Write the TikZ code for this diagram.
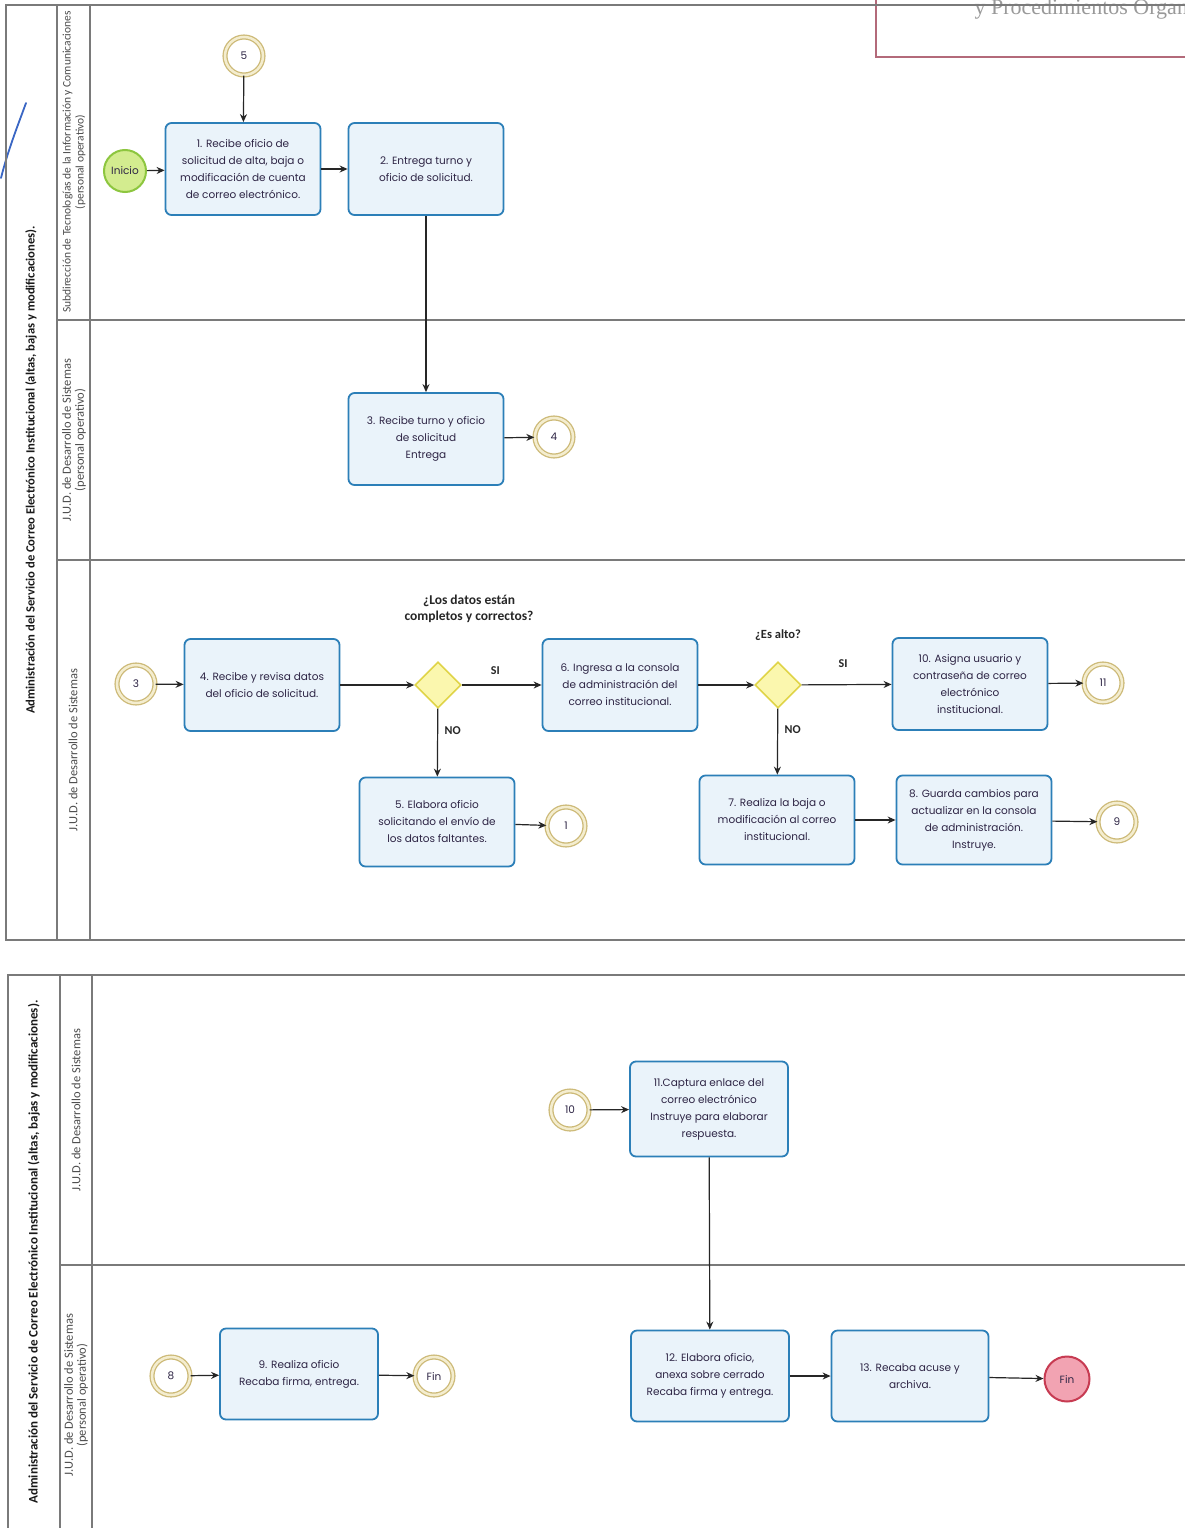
\documentclass[tikz,border=0pt]{standalone}
\usepackage{fontspec}
\setmainfont{Carlito}
\newfontfamily\boxfont{Poppins}
\newfontfamily\headfont{Liberation Serif}
\usetikzlibrary{arrows.meta,shapes.geometric}

\definecolor{taskfill}{HTML}{EAF3FA}
\definecolor{taskline}{HTML}{2C7FB8}
\definecolor{ink}{HTML}{2E2545}
\definecolor{ringcol}{HTML}{CDBA78}
\definecolor{ringgap}{HTML}{F4EDCF}
\definecolor{gatefill}{HTML}{FBF7AE}
\definecolor{gateline}{HTML}{E0D448}
\definecolor{startfill}{HTML}{D3EC8F}
\definecolor{startline}{HTML}{8DC63F}
\definecolor{endfill}{HTML}{F2A3B2}
\definecolor{endline}{HTML}{C73B52}
\definecolor{framecol}{HTML}{7A7A7A}
\definecolor{stampcol}{HTML}{B36A7A}
\definecolor{pen}{HTML}{3A66C4}

\tikzset{
  task/.style={draw=taskline, fill=taskfill, line width=1.8pt, rounded corners=6pt,
    minimum width=155pt, minimum height=92pt, align=center, inner sep=2pt,
    font=\boxfont\fontsize{10.5}{17}\selectfont, text=ink},
  link/.style={circle, draw=ringcol, double=ringgap, double distance=2.5pt,
    line width=1.3pt, fill=white, minimum size=38pt, inner sep=0pt,
    font=\boxfont\fontsize{10.5}{11}\selectfont, text=ink},
  gate/.style={diamond, draw=gateline, fill=gatefill, line width=1.6pt,
    minimum width=46pt, minimum height=46pt, inner sep=0pt},
  startev/.style={circle, draw=startline, fill=startfill, line width=2pt,
    minimum size=42pt, inner sep=0pt, font=\boxfont\fontsize{10.5}{11}\selectfont, text=ink},
  endev/.style={circle, draw=endline, fill=endfill, line width=2pt,
    minimum size=45pt, inner sep=0pt, font=\boxfont\fontsize{10.5}{11}\selectfont, text=ink},
  flow/.style={-{Stealth[length=8pt,width=7pt]}, line width=1.2pt, draw=black!85},
  frameline/.style={draw=framecol, line width=1.3pt},
  question/.style={font=\bfseries\fontsize{13.5}{16}\selectfont, align=center, text=black!85},
  answer/.style={font=\bfseries\fontsize{12}{12}\selectfont, text=black!85},
  lanetext/.style={rotate=90, align=center, font=\fontsize{12.5}{13}\selectfont, text=black!70},
  titletext/.style={rotate=90, align=center, font=\bfseries\fontsize{12.6}{14}\selectfont, text=black!90},
}

\begin{document}
\begin{tikzpicture}[x=1pt, y=-1pt]
\useasboundingbox (0,0) rectangle (1185,1528);
\fill[white] (0,0) rectangle (1185,1528);
\clip (0,0) rectangle (1185,1528);

% stamp box in the upper right corner
\draw[stampcol, line width=1.3pt] (876,-5) -- (876,57) -- (1190,57);
\node[anchor=base west, text=black!40, font=\headfont\fontsize{22}{24}\selectfont] (stamp) at (971,15) {y Procedimientos Organ};

% pen mark on the margin
\draw[pen, line width=1.8pt, line cap=round] (26,103) .. controls (18,125) and (8,150) .. (1,178);

% ---------- sheet 1: lanes ----------
\draw[frameline] (1190,5) -- (6,5) -- (6,940) -- (1190,940);
\draw[frameline] (57,5) -- (57,940);
\draw[frameline] (90,5) -- (90,940);
\draw[frameline] (57,320) -- (1190,320);
\draw[frameline] (57,560) -- (1190,560);

\node[titletext] (title1) at (31,470) {Administración del Servicio de Correo Electrónico Institucional (altas, bajas y modificaciones).};
\node[lanetext, font=\fontsize{11.5}{13}\selectfont] (laneA) at (74,162) {Subdirección de Tecnologías de la Información y Comunicaciones\\(personal operativo)};
\node[lanetext] (laneB) at (74,440) {J.U.D. de Desarrollo de Sistemas\\(personal operativo)};
\node[lanetext] (laneC) at (73,750) {J.U.D. de Desarrollo de Sistemas};

% ---------- sheet 1: nodes ----------
\node[link] (c5) at (244,56) {5};
\node[startev] (inicio) at (125,171) {Inicio};
\node[task] (t1) at (243,169) {1. Recibe oficio de\\solicitud de alta, baja o\\modificación de cuenta\\de correo electrónico.};
\node[task] (t2) at (426,169) {2. Entrega turno y\\oficio de solicitud.};
\node[task] (t3) at (426,439) {3. Recibe turno y oficio\\de solicitud\\Entrega};
\node[link] (c4) at (554,437) {4};

\node[link] (c3) at (136,684) {3};
\node[task] (t4) at (262,685) {4. Recibe y revisa datos\\del oficio de solicitud.};
\node[gate] (g1) at (438,685) {};
\node[question] (q1) at (469,609) {¿Los datos están\\completos y correctos?};
\node[task] (t6) at (620,685) {6. Ingresa a la consola\\de administración del\\correo institucional.};
\node[gate] (g2) at (778,685) {};
\node[question, font=\bfseries\fontsize{12.5}{14}\selectfont] (q2) at (778,635) {¿Es alto?};
\node[task] (t10) at (970,684) {10. Asigna usuario y\\contraseña de correo\\electrónico\\institucional.};
\node[link] (c11) at (1103,683) {11};

\node[task, minimum height=89pt] (t5) at (437,822) {5. Elabora oficio\\solicitando el envío de\\los datos faltantes.};
\node[link] (c1) at (566,826) {1};
\node[task, minimum height=89pt] (t7) at (777,820) {7. Realiza la baja o\\modificación al correo\\institucional.};
\node[task, minimum height=89pt] (t8) at (974,820) {8. Guarda cambios para\\actualizar en la consola\\de administración.\\Instruye.};
\node[link] (c9) at (1117,822) {9};

% ---------- sheet 1: connectors ----------
\draw[flow] (c5) -- (t1);
\draw[flow] (inicio) -- (t1);
\draw[flow] (t1) -- (t2);
\draw[flow] (t2) -- (t3);
\draw[flow] (t3) -- (c4);
\draw[flow] (c3) -- (t4);
\draw[flow] (t4) -- (g1);
\draw[flow] (g1) -- node[answer, above=6pt, pos=0.42] (si1) {SI} (t6);
\draw[flow] (g1) -- node[answer, right=3pt, pos=0.32] (no1) {NO} (t5);
\draw[flow] (t5) -- (c1);
\draw[flow] (t6) -- (g2);
\draw[flow] (g2) -- node[answer, above=13pt, pos=0.46] (si2) {SI} (t10);
\draw[flow] (g2) -- node[answer, right=3pt, pos=0.32] (no2) {NO} (t7);
\draw[flow] (t10) -- (c11);
\draw[flow] (t7) -- (t8);
\draw[flow] (t8) -- (c9);

% ---------- sheet 2: lanes ----------
\draw[frameline] (1190,975) -- (8,975) -- (8,1535);
\draw[frameline] (60,975) -- (60,1535);
\draw[frameline] (92,975) -- (92,1535);
\draw[frameline] (60,1265) -- (1190,1265);

\node[titletext, font=\bfseries\fontsize{13}{14}\selectfont] (title2) at (34,1252) {Administración del Servicio de Correo Electrónico Institucional (altas, bajas y modificaciones).};
\node[lanetext] (laneD) at (76,1110) {J.U.D. de Desarrollo de Sistemas};
\node[lanetext] (laneE) at (76,1395) {J.U.D. de Desarrollo de Sistemas\\(personal operativo)};

% ---------- sheet 2: nodes ----------
\node[link] (c10) at (570,1110) {10};
\node[task, minimum width=158pt, minimum height=95pt] (t11) at (709,1109) {11.Captura enlace del\\correo electrónico\\Instruye para elaborar\\respuesta.};
\node[task, minimum width=158pt, minimum height=91pt] (t12) at (710,1376) {12. Elabora oficio,\\anexa sobre cerrado\\Recaba firma y entrega.};
\node[task, minimum width=157pt, minimum height=91pt] (t13) at (910,1376) {13. Recaba acuse y\\archiva.};
\node[endev] (fin2) at (1067,1379) {Fin};

\node[link] (c8) at (171,1376) {8};
\node[task, minimum width=158pt, minimum height=91pt] (t9) at (299,1374) {9. Realiza oficio\\Recaba firma, entrega.};
\node[link] (fin1) at (434,1376) {Fin};

% ---------- sheet 2: connectors ----------
\draw[flow] (c10) -- (t11);
\draw[flow] (t11) -- (t12);
\draw[flow] (t12) -- (t13);
\draw[flow] (t13) -- (fin2);
\draw[flow] (c8) -- (t9);
\draw[flow] (t9) -- (fin1);
\end{tikzpicture}
\end{document}
